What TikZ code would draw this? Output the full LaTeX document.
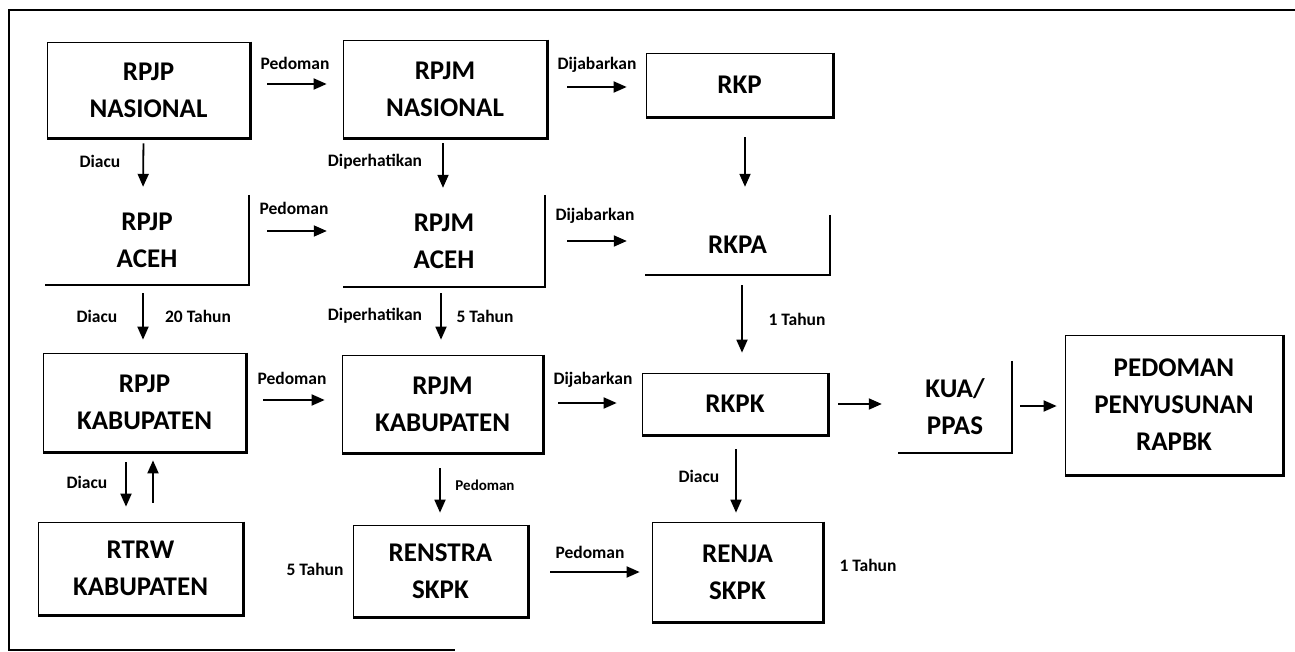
\documentclass[tikz,border=0pt]{standalone}
\usepackage{fontspec}
\setmainfont{Carlito}
\usetikzlibrary{arrows.meta}

\tikzset{
  blok/.style={draw=black, line width=0.7pt, align=center, inner sep=0pt,
    font=\bfseries\fontsize{27}{37}\selectfont},
  polos/.style={align=center, inner sep=0pt,
    font=\bfseries\fontsize{27}{37}\selectfont},
  lbl/.style={inner sep=0pt, font=\bfseries\fontsize{17.5}{19}\selectfont},
  lblkecil/.style={inner sep=0pt, font=\bfseries\fontsize{15}{17}\selectfont},
  panah/.style={line width=1.8pt, -{Triangle[length=13pt,width=11pt]}},
}

\begin{document}
\begin{tikzpicture}[x=1pt,y=-1pt]
  \useasboundingbox (0,0) rectangle (1295,652);
  % bingkai
  \draw [line width=1.4pt] (1295,10) -- (9,10) -- (9,650) -- (455,650);

  % baris nasional
  \node [blok, minimum width=203pt, minimum height=96pt] (nas1) at (148.5,90) {RPJP\\NASIONAL};
  \node [blok, minimum width=204pt, minimum height=98pt] (nas2) at (445,89) {RPJM\\NASIONAL};
  \node [blok, minimum width=187pt, minimum height=64pt] (rkp) at (739.5,85) {RKP};
  % baris aceh
  \node [polos, minimum width=204pt, minimum height=90pt] (aceh1) at (147,240) {RPJP\\ACEH};
  \node [polos, minimum width=202pt, minimum height=92pt] (aceh2) at (444,241) {RPJM\\ACEH};
  \node [polos, minimum width=185pt, minimum height=60pt] (rkpa) at (737.5,245) {RKPA};
  % baris kabupaten
  \node [blok, minimum width=203pt, minimum height=99pt] (kab1) at (144.5,402.5) {RPJP\\KABUPATEN};
  \node [blok, minimum width=201pt, minimum height=98pt] (kab2) at (442.5,404) {RPJM\\KABUPATEN};
  \node [blok, minimum width=186pt, minimum height=62pt] (rkpk) at (735,404) {RKPK};
  \node [polos, minimum width=114pt, minimum height=92pt] (kua) at (955,407) {KUA/\\PPAS};
  \node [blok, minimum width=218pt, minimum height=140pt] (rapbk) at (1174,405) {PEDOMAN\\PENYUSUNAN\\RAPBK};
  % baris skpk
  \node [blok, minimum width=205pt, minimum height=93pt] (rtrw) at (140.5,568.5) {RTRW\\KABUPATEN};
  \node [blok, minimum width=175pt, minimum height=92pt] (renstra) at (440.5,571) {RENSTRA\\SKPK};
  \node [blok, minimum width=171pt, minimum height=100pt] (renja) at (737.5,572) {RENJA\\SKPK};

  % bayangan kanan bawah
  \foreach \n in {nas1,nas2,rkp,aceh1,aceh2,rkpa,kab1,kab2,rkpk,kua,rapbk,rtrw,renstra,renja} {
    \draw [line width=2.4pt] (\n.north east) |- (\n.south west);
  }

  % panah mendatar
  \draw [panah, shorten <=17pt, shorten >=16pt] ([yshift=6pt]nas1.east) -- ([yshift=5pt]nas2.west);
  \draw [panah, shorten <=20pt, shorten >=19pt] ([yshift=2pt]nas2.east) -- ([yshift=-2pt]rkp.west);
  \draw [panah, shorten <=18pt, shorten >=16pt] ([yshift=9pt]aceh1.east) -- ([yshift=10pt]aceh2.west);
  \draw [panah, shorten <=22pt, shorten >=18pt] (aceh2.east) -- ([yshift=4pt]rkpa.west);
  \draw [panah, shorten <=17pt, shorten >=17pt] ([yshift=2.5pt]kab1.east) -- ([yshift=4pt]kab2.west);
  \draw [panah, shorten <=15pt, shorten >=25pt] ([yshift=1pt]kab2.east) -- ([yshift=1pt]rkpk.west);
  \draw [panah, shorten <=10pt, shorten >=16pt] (rkpk.east) -- ([yshift=3pt]kua.west);
  \draw [panah, shorten <=8pt, shorten >=8pt] ([yshift=1pt]kua.east) -- ([yshift=-1pt]rapbk.west);
  \draw [panah, shorten <=22pt, shorten >=12pt] ([yshift=-1pt]renstra.east) -- (renja.west);

  % panah tegak
  \draw [panah, shorten <=5pt, shorten >=8pt] ([xshift=-5pt]nas1.south) -- ([xshift=-4pt]aceh1.north);
  \draw [panah, shorten <=5pt, shorten >=7pt] ([xshift=-2pt]nas2.south) -- ([xshift=-1pt]aceh2.north);
  \draw [panah, shorten <=20pt, shorten >=28pt] ([xshift=5.5pt]rkp.south) -- ([xshift=7.5pt]rkpa.north);
  \draw [panah, shorten <=8pt, shorten >=13pt] ([xshift=-4pt]aceh1.south) -- ([xshift=-1.5pt]kab1.north);
  \draw [panah, shorten <=6pt, shorten >=15pt] ([xshift=-3pt]aceh2.south) -- ([xshift=-1.5pt]kab2.north);
  \draw [panah, shorten <=10pt, shorten >=20pt] ([xshift=4.5pt]rkpa.south) -- ([xshift=7pt]rkpk.north);
  \draw [panah, shorten <=10pt, shorten >=15pt] ([xshift=-18.5pt]kab1.south) -- ([xshift=-14.5pt]rtrw.north);
  \draw [panah, shorten <=19pt, shorten >=8pt] ([xshift=12.5pt]rtrw.north) -- ([xshift=8.5pt]kab1.south);
  \draw [panah, shorten <=15pt, shorten >=12pt] ([xshift=-2.5pt]kab2.south) -- ([xshift=-0.5pt]renstra.north);
  \draw [panah, shorten <=14pt, shorten >=9pt] ([xshift=1pt]rkpk.south) -- ([xshift=-1.5pt]renja.north);

  % keterangan
  \node [lbl] (tPed1) at (295,63) {Pedoman};
  \node [lbl] (tJab1) at (597,65) {Dijabarkan};
  \node [lbl] (tAcu1) at (100,161) {Diacu};
  \node [lbl] (tPer1) at (375,162) {Diperhatikan};
  \node [lbl] (tPed2) at (294,208) {Pedoman};
  \node [lbl] (tJab2) at (595,216) {Dijabarkan};
  \node [lbl] (tAcu2) at (97,316) {Diacu};
  \node [lbl] (tThn20) at (198,316) {20 Tahun};
  \node [lbl] (tPer2) at (375,316) {Diperhatikan};
  \node [lbl] (tThn5a) at (485,316) {5 Tahun};
  \node [lbl] (tThn1a) at (797,319) {1 Tahun};
  \node [lbl] (tPed3) at (292,378) {Pedoman};
  \node [lbl] (tJab3) at (593,380) {Dijabarkan};
  \node [lbl] (tAcu3) at (87,482) {Diacu};
  \node [lblkecil] (tPed4) at (485,485) {Pedoman};
  \node [lbl] (tAcu4) at (699,476) {Diacu};
  \node [lbl] (tPed5) at (590,552) {Pedoman};
  \node [lbl] (tThn5b) at (315,569) {5 Tahun};
  \node [lbl] (tThn1b) at (868,565) {1 Tahun};
\end{tikzpicture}
\end{document}
